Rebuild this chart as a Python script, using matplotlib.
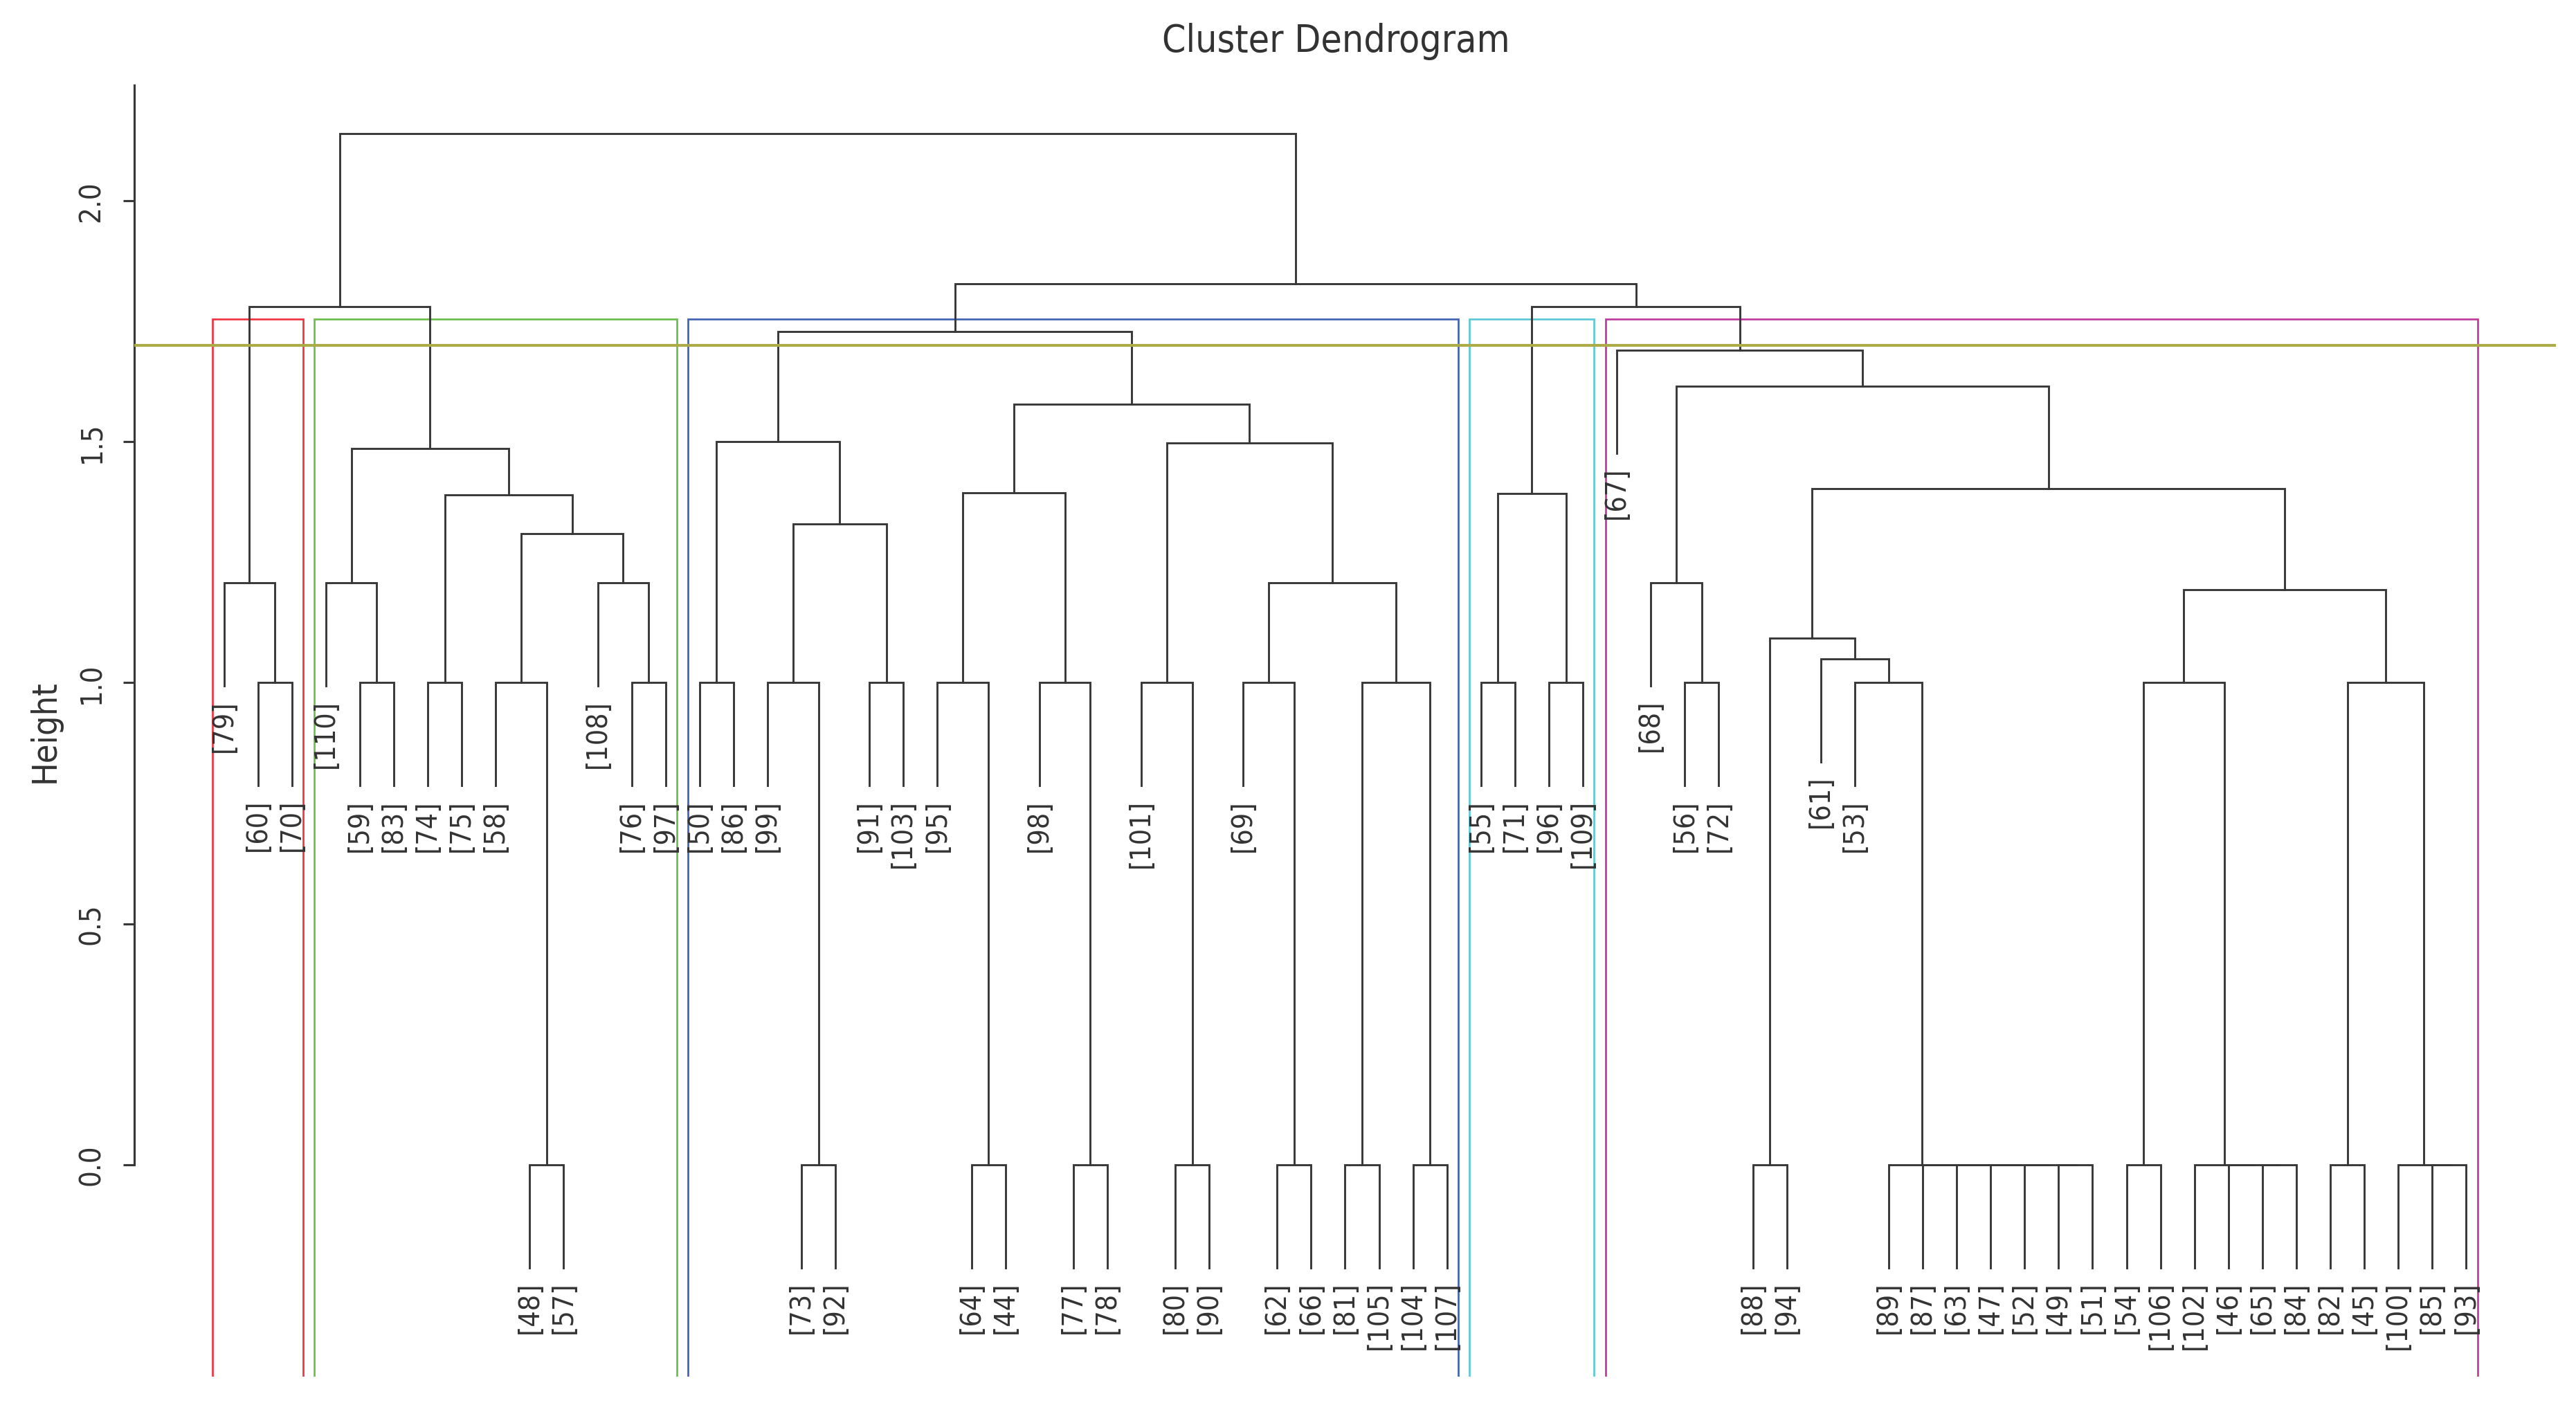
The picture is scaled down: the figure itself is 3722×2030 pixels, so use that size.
import matplotlib
matplotlib.use('Agg')
import matplotlib.pyplot as plt
from matplotlib.patches import Rectangle
from matplotlib import font_manager

# narrow font if we have one
narrow = False
for fam, stretch in [('Liberation Sans Narrow', 'normal'), ('DejaVu Sans', 'condensed')]:
    try:
        path = font_manager.findfont(font_manager.FontProperties(family=fam, stretch=stretch),
                                     fallback_to_default=False)
    except Exception:
        continue
    if 'Narrow' in path or 'Condensed' in path:
        plt.rcParams['font.family'] = [fam, 'DejaVu Sans']
        plt.rcParams['font.stretch'] = stretch
        narrow = fam == 'Liberation Sans Narrow'
        break

# leaf labels, left to right as drawn
leaf_order = [79, 60, 70,
              110, 59, 83, 74, 75, 58, 48, 57, 108, 76, 97,
              50, 86, 99, 73, 92, 91, 103, 95, 64, 44, 98, 77, 78, 101, 80, 90,
              69, 62, 66, 81, 105, 104, 107,
              55, 71, 96, 109,
              67, 68, 56, 72, 88, 94, 61, 53, 89, 87, 63, 47, 52, 49, 51,
              54, 106, 102, 46, 65, 84, 82, 45, 100, 85, 93]

# merge steps (like R hclust$merge): negative = leaf label, positive = earlier step (1-based)
merge_a = [-48, -73, -64, -77, -80, -62, -81, -104, -88, -49, -52, -47, -63, -87, -89,
           -54, -65, -46, -102, -82, -85, -100,
           -60, -59, -74, -58, -76, -50, -99, -91, -95, -98, -101, -69, 7, -55, -96,
           -56, -53, 16, 20,
           -61, 9, 40, -79, -110, -108, 34, -68, 26, 29, 25, 36, 31, 43, 46, 33, 28,
           54, 49, -67, 58, 45, 53, 62, 63]
merge_b = [-57, -92, -44, -78, -90, -66, -105, -107, -94, -51, 10, 11, 12, 13, 14,
           -106, -84, 17, 18, -45, -93, 21,
           -70, -83, -75, 1, -97, -86, 2, -103, 3, 4, 5, 6, 8, -71, -109,
           -72, 15, 19, 22,
           39, 42, 41, 23, 24, 27, 35, 38, 47, 30, 50, 37, 32, 44, 52, 48, 51,
           57, 55, 60, 59, 56, 61, 64, 65]
merge_h = [0.0] * 22 + [1.0] * 19 + \
          [1.05, 1.093, 1.193, 1.207, 1.207, 1.207, 1.207, 1.207, 1.31, 1.33, 1.39,
           1.392, 1.394, 1.402, 1.486, 1.497, 1.50, 1.578, 1.615, 1.69, 1.728,
           1.78, 1.78, 1.828, 2.14]

n_clusters = 5
cut_line = 1.70
rect_colors = ['#EE3440', '#6CBF4B', '#4063B2', '#5BCAD6', '#BF3A9C']
line_col = '#383838'
text_col = '#333333'

if narrow:
    fs_leaf, fs_tick, fs_title, fs_ylab = 11, 10.5, 14.5, 13
else:
    fs_leaf, fs_tick, fs_title, fs_ylab = 9.8, 10, 13.2, 12

fig = plt.figure(figsize=(3722 / 300, 2031 / 300), dpi=300)
ax = fig.add_axes([0.05212, 0.02019, 0.94009, 0.91876])

n = len(leaf_order)
ext = 0.04 * (n - 1)
ylo, yhi = -0.44, 2.24
ax.set_xlim(1 - ext, n + ext)
ax.set_ylim(ylo, yhi)

hang = 0.1 * (max(merge_h) - min(merge_h))
pos = {lab: i + 1 for i, lab in enumerate(leaf_order)}
node_x = {}
node_leaves = {}
parent_h = {}

for step, (a, b, h) in enumerate(zip(merge_a, merge_b, merge_h), start=1):
    xs, ys = [], []
    for ref in (a, b):
        parent_h[ref] = h
        if ref < 0:
            x = pos[-ref]
            y0 = h - hang
            ax.annotate('[%d]' % -ref, (x, y0), xytext=(0, -4.5), textcoords='offset points',
                        rotation=90, ha='center', va='top', fontsize=fs_leaf, color=text_col)
        else:
            x = node_x[ref]
            y0 = merge_h[ref - 1]
        xs.append(x)
        ys.append(y0)
    ax.plot([xs[0], xs[0], xs[1], xs[1]], [ys[0], h, h, ys[1]],
            color=line_col, lw=0.7, solid_joinstyle='miter', zorder=2)
    node_x[step] = (xs[0] + xs[1]) / 2
    node_leaves[step] = [pos[-r] for r in (a, b) if r < 0] + \
        sum([node_leaves[r] for r in (a, b) if r > 0], [])

# clusters for k groups, boxes like rect.hclust
hs = sorted(merge_h, reverse=True)
box_top = (hs[n_clusters - 2] + hs[n_clusters - 1]) / 2
groups = []
for ref, ph in parent_h.items():
    own_h = merge_h[ref - 1] if ref > 0 else -1
    if own_h < box_top <= ph:
        lv = node_leaves[ref] if ref > 0 else [pos[-ref]]
        groups.append((min(lv), max(lv)))
groups.sort()
for (lo, hi), col in zip(groups, rect_colors):
    ax.add_patch(Rectangle((lo - 0.34, ylo - 0.2), hi - lo + 0.67, box_top - ylo + 0.2,
                           fill=False, edgecolor=col, lw=0.65, zorder=1))

ax.axhline(cut_line, color='#ABAB47', lw=1.0, zorder=3)

for s in ['top', 'right', 'bottom']:
    ax.spines[s].set_visible(False)
ax.spines['left'].set_bounds(0, yhi)
ax.spines['left'].set_color(line_col)
ax.spines['left'].set_linewidth(0.75)
ax.set_xticks([])
ax.set_yticks([0.0, 0.5, 1.0, 1.5, 2.0])
ax.set_yticklabels(['0.0', '0.5', '1.0', '1.5', '2.0'], rotation=90, va='center')
ax.tick_params(axis='y', length=3.8, width=0.75, color=line_col, pad=6,
               labelsize=fs_tick, labelcolor=text_col)

fig.text(1930 / 3722, 1 - 75 / 2031, 'Cluster Dendrogram', ha='center', va='baseline',
         fontsize=fs_title, color=text_col)
fig.text(65 / 3722, 1 - 1057 / 2031, 'Height', rotation=90, ha='center', va='center',
         fontsize=fs_ylab, color=text_col)

fig.savefig('out.png', dpi=300)
